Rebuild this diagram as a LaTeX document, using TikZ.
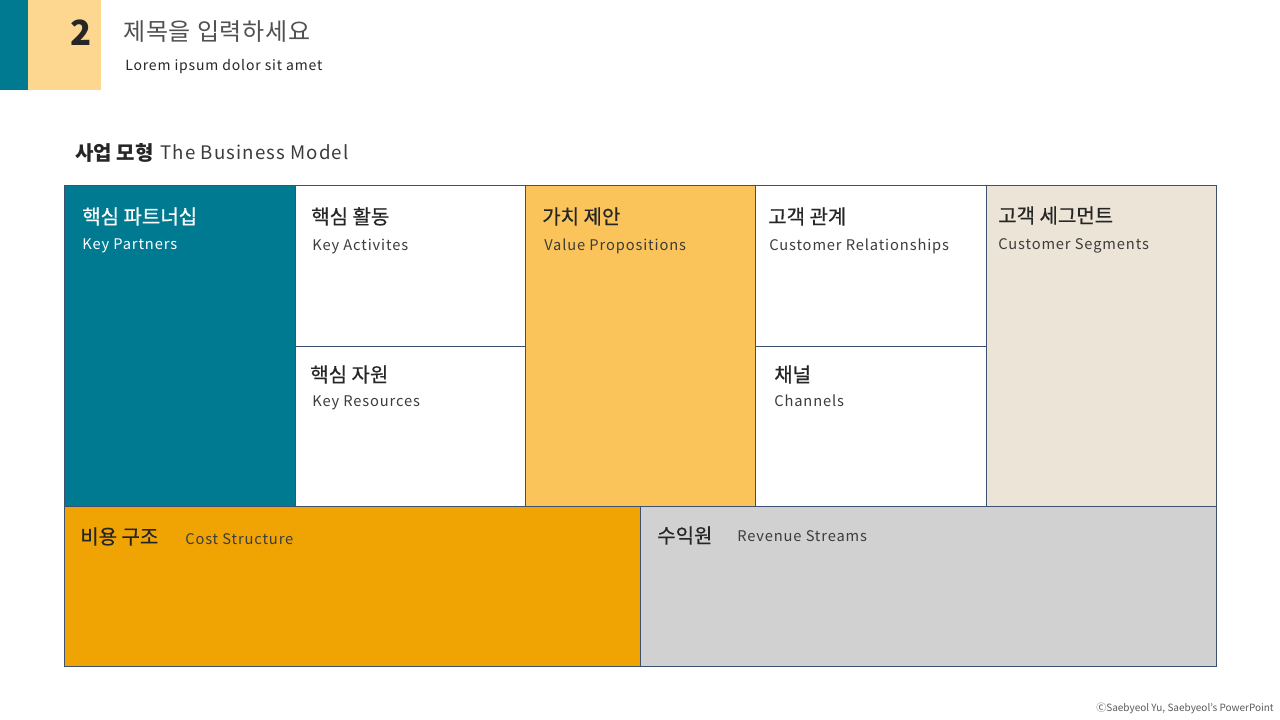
\documentclass[tikz,border=0pt]{standalone}
\usepackage{fontspec}
\setmainfont{Noto Sans CJK KR}
\newfontfamily\engfont[LetterSpace=6]{Noto Sans CJK KR}
\newfontfamily\korhead[FakeBold=0.6]{Noto Sans CJK KR}
\newfontfamily\titlefont[LetterSpace=3]{Noto Sans CJK KR}
\definecolor{teal}{HTML}{007A91}
\definecolor{paleyel}{HTML}{FDD78F}
\definecolor{valyel}{HTML}{FBC45A}
\definecolor{beige}{HTML}{EBE4D7}
\definecolor{orng}{HTML}{F0A404}
\definecolor{lgrey}{HTML}{D1D1D1}
\definecolor{bord}{HTML}{3D5070}
\definecolor{txt}{HTML}{262626}
\tikzset{
  cell/.style={draw=bord, line width=0.7pt},
  kor/.style={anchor=base west, inner sep=0pt, font=\korhead\fontsize{15}{18}\selectfont, text=txt},
  eng/.style={anchor=base west, inner sep=0pt, font=\engfont\fontsize{11}{13}\selectfont, text=txt!90},
}
\begin{document}
\begin{tikzpicture}[x=0.75pt,y=-0.75pt]
\useasboundingbox (0,0) rectangle (1280,720);
\fill[white] (0,0) rectangle (1280,720);
% header
\fill[teal] (0,0) rectangle (28,90);
\fill[paleyel] (28,0) rectangle (101,90);
\node (num) [anchor=base, inner sep=0pt, font=\fontsize{26}{30}\selectfont\bfseries, text=txt] at (81.5,46) {2};
\node (title) [anchor=base west, inner sep=0pt, font=\titlefont\fontsize{18}{21}\selectfont, text=txt!80] at (123,41) {제목을 입력하세요};
\node (sub) [anchor=base west, inner sep=0pt, font=\engfont\fontsize{10.5}{12}\selectfont, text=txt] at (125,71) {Lorem ipsum dolor sit amet};
\node (sec) [anchor=base west, inner sep=0pt, font=\fontsize{15}{18}\selectfont\bfseries, text=txt] at (75,161) {사업 모형};
\node (sece) [anchor=base west, inner sep=0pt, font=\engfont\fontsize{14}{16}\selectfont, text=txt!90] at (160,160) {The Business Model};
% cells
\draw[cell, fill=teal] (64,185) rectangle (295,506);
\draw[cell, fill=white] (295,185) rectangle (525,346);
\draw[cell, fill=white] (295,346) rectangle (525,506);
\draw[cell, fill=valyel] (525,185) rectangle (755,506);
\draw[cell, fill=white] (755,185) rectangle (986,346);
\draw[cell, fill=white] (755,346) rectangle (986,506);
\draw[cell, fill=beige] (986,185) rectangle (1216,506);
\draw[cell, fill=orng] (64,506) rectangle (640,666);
\draw[cell, fill=lgrey] (640,506) rectangle (1216,666);
% labels
\node (kp) [kor, text=white] at (82,224) {핵심 파트너십};
\node (kpe) [eng, text=white] at (82,249) {Key Partners};
\node (ka) [kor] at (311,224) {핵심 활동};
\node (kae) [eng] at (312,250) {Key Activites};
\node (vp) [kor] at (542,224) {가치 제안};
\node (vpe) [eng] at (544,251) {Value Propositions};
\node (cr) [kor] at (768,224) {고객 관계};
\node (cre) [eng] at (769,250) {Customer Relationships};
\node (cs) [kor] at (998,223) {고객 세그먼트};
\node (cse) [eng] at (998,249) {Customer Segments};
\node (kr) [kor] at (310,382) {핵심 자원};
\node (kre) [eng] at (312,406) {Key Resources};
\node (ch) [kor] at (774,382) {채널};
\node (che) [eng] at (774,406) {Channels};
\node (cost) [kor] at (80,544) {비용 구조};
\node (coste) [eng] at (185,544) {Cost Structure};
\node (rev) [kor] at (657,543) {수익원};
\node (reve) [eng] at (737,541) {Revenue Streams};
\node (copy) [anchor=base east, inner sep=0pt, font=\fontsize{7.5}{9}\selectfont, text=txt!75] at (1274,711) {ⒸSaebyeol Yu, Saebyeol's PowerPoint};
\end{tikzpicture}
\end{document}
